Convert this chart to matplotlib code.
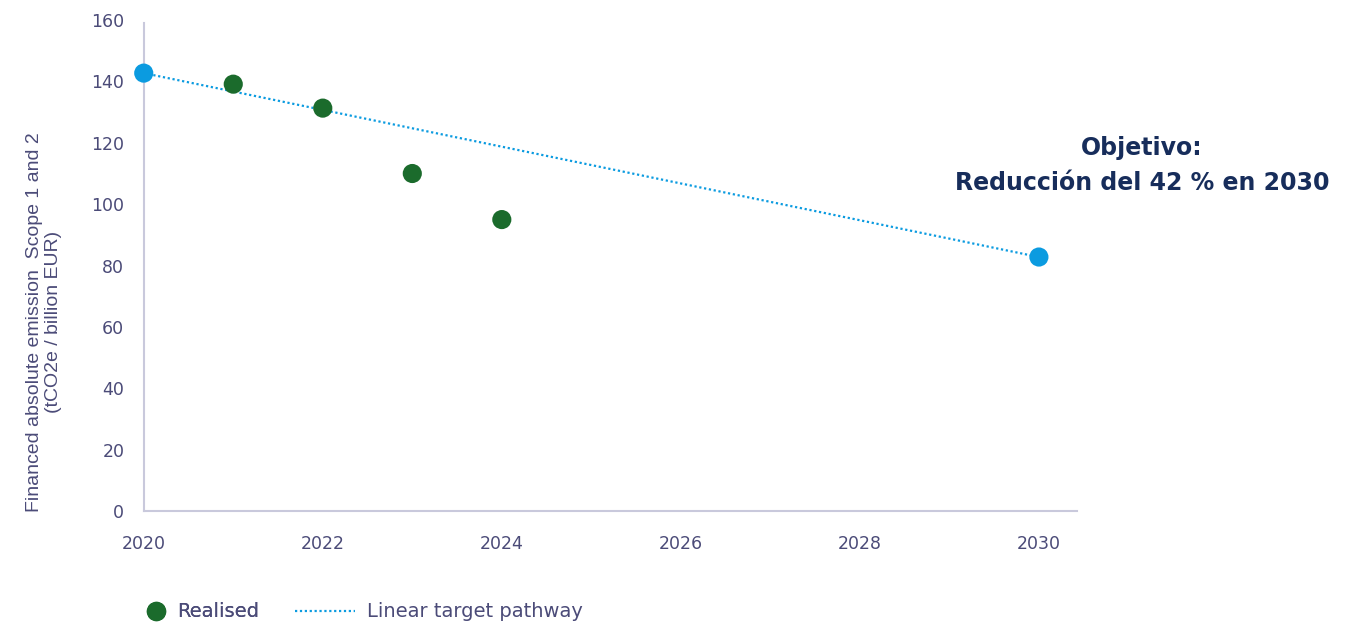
import numpy as np
import matplotlib.pyplot as plt
from matplotlib.lines import Line2D

# --- data ---
realised_years = [2021, 2022, 2023, 2024]
realised_values = [139.1, 131.3, 110.0, 95.0]

target_years = [2020, 2030]
target_values = [142.7, 82.8]

x_ticks = [2020, 2022, 2024, 2026, 2028, 2030]
y_ticks = [0, 20, 40, 60, 80, 100, 120, 140, 160]

# --- styling ---
blue = '#0b9be0'
green = '#1b6b2c'
tick_col = '#4b4b78'
spine_col = '#c9c9dc'
navy = '#172d5b'

fig = plt.figure(figsize=(13.69, 6.25), dpi=100)
ax = fig.add_axes([0.105, 0.182, 0.682, 0.786])

# dotted linear pathway + endpoints
ax.plot(target_years, target_values, linestyle=(0, (1, 1.2)), color=blue,
        linewidth=1.6, zorder=2)
ax.scatter(target_years, target_values, s=190, color=blue, zorder=3,
           clip_on=False, edgecolors='none')

# realised points
ax.scatter(realised_years, realised_values, s=190, color=green, zorder=4,
           edgecolors='none')

ax.set_xlim(2020, 2030.43)
ax.set_ylim(0, 160)
ax.set_xticks(x_ticks)
ax.set_yticks(y_ticks)
ax.tick_params(length=0, labelsize=12.5, colors=tick_col)
ax.tick_params(axis='x', pad=17)
ax.tick_params(axis='y', pad=14)

for side in ['top', 'right']:
    ax.spines[side].set_visible(False)
for side in ['left', 'bottom']:
    ax.spines[side].set_color(spine_col)
    ax.spines[side].set_linewidth(1.5)
ax.spines['left'].set_bounds(0, 159)

ax.set_ylabel('Financed absolute emission  Scope 1 and 2\n(tCO2e / billion EUR)',
              fontsize=14, color=tick_col, family='Liberation Sans',
              linespacing=1.1)
ax.yaxis.set_label_coords(-0.088, 0.385)

# target annotation
ax.text(2031.15, 112.7, 'Objetivo:\nReducción del 42 % en 2030', ha='center',
        va='center', fontsize=17, fontweight='bold', color=navy,
        linespacing=1.6, clip_on=False)

# legend (two pieces so marker and dotted line get their own widths)
leg1 = fig.legend([Line2D([], [], marker='o', linestyle='none', markersize=14,
                          color=green, markeredgewidth=0)], ['Realised'],
                  loc='center left', bbox_to_anchor=(0.107, 0.021),
                  frameon=False, fontsize=14, labelcolor=tick_col,
                  handlelength=1.0, handletextpad=0.6, borderpad=0,
                  borderaxespad=0)
fig.add_artist(leg1)
fig.legend([Line2D([], [], linestyle=(0, (1, 1.2)), color=blue, linewidth=1.6)],
           ['Linear target pathway'],
           loc='center left', bbox_to_anchor=(0.2155, 0.021),
           frameon=False, fontsize=14, labelcolor=tick_col,
           handlelength=3.1, handletextpad=0.6, borderpad=0,
           borderaxespad=0)

fig.savefig('out.png', dpi=100)
